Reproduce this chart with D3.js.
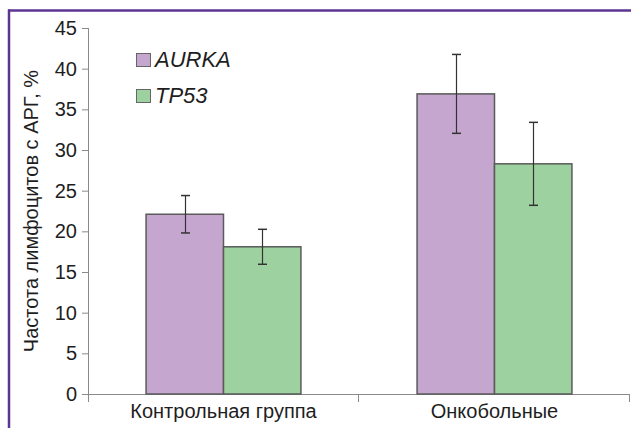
<!DOCTYPE html>
<html><head><meta charset="utf-8">
<script src="https://cdn.jsdelivr.net/npm/d3@7"></script>
<style>html,body{margin:0;padding:0;background:#fff;} text{font-family:"Liberation Sans",Arial,sans-serif;fill:#1e1e1e;}</style>
</head><body>
<svg id="c" width="631" height="428"></svg>
<script>
const categories = ["Контрольная группа", "Онкобольные"];
const seriesNames = ["AURKA", "TP53"];
const aurkaValues = [22.1, 36.9];
const aurkaErrors = [2.3, 4.85];
const tp53Values = [18.1, 28.3];
const tp53Errors = [2.15, 5.1];
const yTicks = [0, 5, 10, 15, 20, 25, 30, 35, 40, 45];
const yLabel = "Частота лимфоцитов с АРГ, %";
const colors = ["#c5a6cf", "#9dd19f"];

const svg = d3.select("#c");
// frame
svg.append("line").attr("x1", 8).attr("x2", 631).attr("y1", 10.5).attr("y2", 10.5).attr("stroke", "#5b3592").attr("stroke-width", 2.5);
svg.append("line").attr("x1", 9).attr("x2", 9).attr("y1", 9.5).attr("y2", 428).attr("stroke", "#5b3592").attr("stroke-width", 2.5);

const pLeft = 88, pRight = 630, pTop = 28, pBottom = 394;
const y = d3.scaleLinear().domain([0, 45]).range([pBottom, pTop]);
const x0 = d3.scaleBand().domain(categories).range([pLeft, pRight]).padding(0);
const x1 = d3.scaleBand().domain(seriesNames).range([0, x0.bandwidth()]).paddingInner(0).paddingOuter(0.75);

const data = categories.map((c, i) => ({
  cat: c,
  vals: [
    {s: "AURKA", v: aurkaValues[i], e: aurkaErrors[i], color: colors[0]},
    {s: "TP53", v: tp53Values[i], e: tp53Errors[i], color: colors[1]}
  ]
}));

const axisColor = "#8a8a8a";
// y axis
const yAxis = svg.append("g").attr("transform", `translate(${pLeft},0)`)
  .call(d3.axisLeft(y).tickValues(yTicks).tickSize(6).tickPadding(5).tickFormat(d3.format("d")));
yAxis.select(".domain").attr("stroke", axisColor).attr("d", `M0.5,${pTop}V${pBottom + 8}`);
yAxis.selectAll(".tick line").attr("stroke", axisColor);
yAxis.selectAll(".tick text").style("font-size", "20px").attr("fill", "#1e1e1e").style("font-family", "Liberation Sans, Arial, sans-serif");

// x axis
const xAxis = svg.append("g").attr("transform", `translate(0,${pBottom})`);
xAxis.append("line").attr("x1", pLeft).attr("x2", pRight).attr("y1", 0.5).attr("y2", 0.5).attr("stroke", axisColor);
const bounds = categories.map(c => x0(c) + x0.bandwidth());
xAxis.selectAll("line.tk").data(bounds).join("line").attr("class", "tk")
  .attr("x1", d => d - 0.5).attr("x2", d => d - 0.5).attr("y1", 0).attr("y2", 8).attr("stroke", axisColor);
xAxis.selectAll("text.cl").data(categories).join("text").attr("class", "cl")
  .attr("x", d => x0(d) + x0.bandwidth() / 2).attr("y", 24)
  .attr("text-anchor", "middle").style("font-size", "20px").text(d => d);

// bars
const groups = svg.selectAll("g.grp").data(data).join("g").attr("class", "grp")
  .attr("transform", d => `translate(${x0(d.cat)},0)`);
groups.selectAll("rect").data(d => d.vals).join("rect")
  .attr("x", d => x1(d.s)).attr("width", x1.bandwidth())
  .attr("y", d => y(d.v)).attr("height", d => y(0) - y(d.v))
  .attr("fill", d => d.color).attr("stroke", "#5a5a5a").attr("stroke-width", 1.5);
// error bars
const eb = groups.selectAll("g.eb").data(d => d.vals).join("g").attr("class", "eb")
  .attr("transform", d => `translate(${Math.round(x1(d.s) + x1.bandwidth() / 2) + 0.5},0)`);
eb.append("line").attr("y1", d => y(d.v + d.e)).attr("y2", d => y(d.v - d.e)).attr("stroke", "#333").attr("stroke-width", 1.2);
eb.append("line").attr("x1", -4.5).attr("x2", 4.5).attr("y1", d => y(d.v + d.e)).attr("y2", d => y(d.v + d.e)).attr("stroke", "#333").attr("stroke-width", 1.5);
eb.append("line").attr("x1", -4.5).attr("x2", 4.5).attr("y1", d => y(d.v - d.e)).attr("y2", d => y(d.v - d.e)).attr("stroke", "#333").attr("stroke-width", 1.5);

// y label
svg.append("text").attr("transform", "translate(38,211) rotate(-90)")
  .attr("text-anchor", "middle").style("font-size", "20px").text(yLabel);

// legend
const lg = svg.selectAll("g.lg").data(seriesNames).join("g").attr("class", "lg")
  .attr("transform", (d, i) => `translate(136,${53 + i * 36})`);
lg.append("rect").attr("x", 0.5).attr("y", 0.5).attr("width", 14).attr("height", 13)
  .attr("fill", (d, i) => colors[i]).attr("stroke", "#666").attr("stroke-width", 1);
lg.append("text").attr("x", 19).attr("y", 13.5).style("font-size", "22px").style("font-style", "italic").text(d => d);
</script>
</body></html>
